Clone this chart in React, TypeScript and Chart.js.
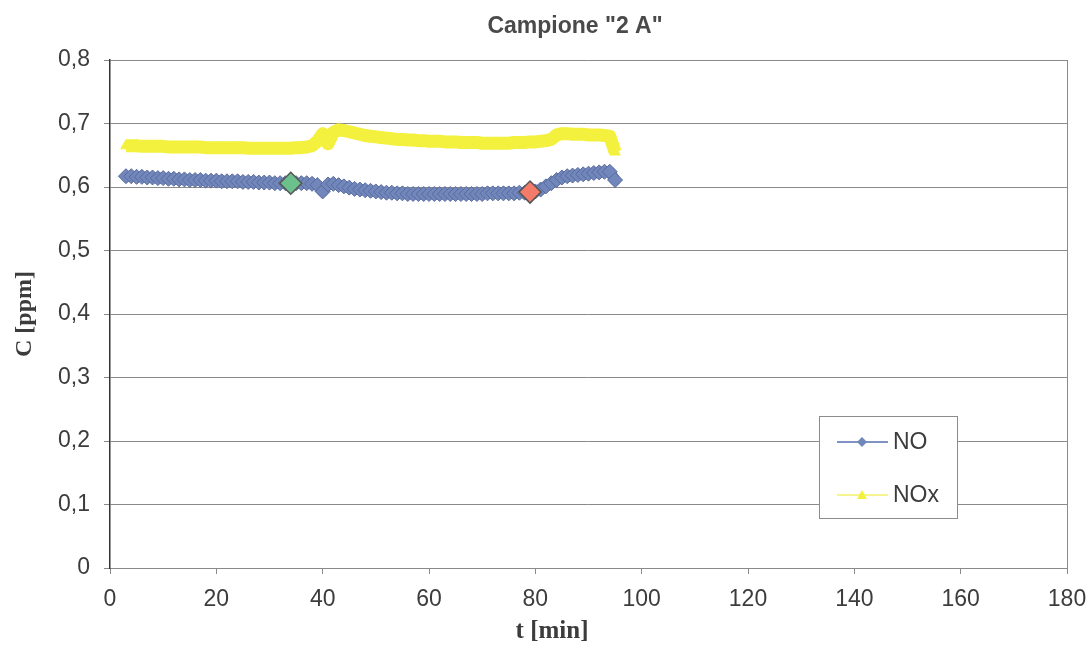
import React, { useEffect, useRef } from "react";
import { Chart, registerables } from "chart.js";

Chart.register(...registerables);

const TITLE = 'Campione "2 A"';
const X_TITLE = "t [min]";
const Y_TITLE = "C [ppm]";
const SERIES_NAMES = ["NO", "NOx"];

const TIME = [
  3, 4, 5, 6, 7, 8, 9, 10, 11, 12, 13, 14, 15, 16, 17, 18, 19, 20, 21, 22,
  23, 24, 25, 26, 27, 28, 29, 30, 31, 32, 33, 34, 35, 36, 37, 38, 39, 40, 41, 42,
  43, 44, 45, 46, 47, 48, 49, 50, 51, 52, 53, 54, 55, 56, 57, 58, 59, 60, 61, 62,
  63, 64, 65, 66, 67, 68, 69, 70, 71, 72, 73, 74, 75, 76, 77, 78, 79, 80, 81, 82,
  83, 84, 85, 86, 87, 88, 89, 90, 91, 92, 93, 94, 95,
];

const NO = [
  0.617, 0.617, 0.616, 0.616, 0.615, 0.615, 0.614, 0.614, 0.613, 0.613, 0.612, 0.612, 0.611, 0.611, 0.611, 0.61, 0.61, 0.61, 0.609, 0.609,
  0.609, 0.609, 0.608, 0.608, 0.608, 0.607, 0.607, 0.607, 0.606, 0.606, 0.606, 0.606, 0.606, 0.606, 0.606, 0.605, 0.603, 0.593, 0.604, 0.605,
  0.603, 0.601, 0.599, 0.597, 0.596, 0.595, 0.594, 0.593, 0.592, 0.591, 0.591, 0.59, 0.59, 0.589, 0.589, 0.589, 0.589, 0.589, 0.589, 0.589,
  0.589, 0.589, 0.589, 0.589, 0.589, 0.589, 0.589, 0.589, 0.59, 0.59, 0.59, 0.59, 0.59, 0.59, 0.591, 0.591, 0.592, 0.593, 0.596, 0.601,
  0.606, 0.611, 0.615, 0.617, 0.618, 0.619, 0.62, 0.621, 0.622, 0.623, 0.624, 0.624, 0.611,
];

const NOX = [
  0.665, 0.665, 0.665, 0.664, 0.664, 0.664, 0.664, 0.664, 0.663, 0.663, 0.663, 0.663, 0.663, 0.663, 0.663, 0.662, 0.662, 0.662, 0.662, 0.662,
  0.662, 0.662, 0.662, 0.661, 0.661, 0.661, 0.661, 0.661, 0.661, 0.661, 0.661, 0.661, 0.662, 0.662, 0.663, 0.665, 0.672, 0.684, 0.668, 0.686,
  0.69, 0.689, 0.687, 0.685, 0.683, 0.681, 0.68, 0.679, 0.678, 0.677, 0.676, 0.675, 0.675, 0.674, 0.674, 0.673, 0.673, 0.672, 0.672, 0.672,
  0.671, 0.671, 0.671, 0.67, 0.67, 0.67, 0.67, 0.669, 0.669, 0.669, 0.669, 0.669, 0.669, 0.67, 0.67, 0.67, 0.671, 0.671, 0.672, 0.673,
  0.675, 0.682, 0.684, 0.684, 0.683, 0.683, 0.683, 0.682, 0.682, 0.682, 0.681, 0.68, 0.655,
];

const MARK_TIMES = [34, 79];
const MARK_COLORS = ["#6cc08c", "#f47a6a"];

const X_MIN = 0;
const X_MAX = 180;
const X_STEP = 20;
const Y_MIN = 0;
const Y_MAX = 0.8;
const Y_STEP = 0.1;

const NO_COLOR = "#7186bb";
const NO_BORDER = "#5a6c9e";
const NOX_COLOR = "#f3f13e";
const TEXT = "#3c3c3c";
const SANS = "'Liberation Sans', Arial, sans-serif";
const SERIF = "'Liberation Serif', 'Times New Roman', serif";

export default function App() {
  const ref = useRef<HTMLCanvasElement>(null);

  useEffect(() => {
    document.body.style.margin = "0";
    const canvas = ref.current!;
    const toPts = (vals: number[]) => TIME.map((t, i) => ({ x: t, y: vals[i] }));
    const marks = MARK_TIMES.map((t) => ({ x: t, y: NO[TIME.indexOf(t)] }));

    const decor = {
      id: "decor",
      beforeDatasetsDraw(chart: any) {
        const { ctx, chartArea } = chart;
        ctx.save();
        ctx.strokeStyle = "#8a8a8a";
        ctx.lineWidth = 1;
        ctx.beginPath();
        ctx.moveTo(chartArea.right + 0.5, chartArea.top);
        ctx.lineTo(chartArea.right + 0.5, chartArea.bottom);
        ctx.stroke();
        ctx.restore();
      },
      afterDraw(chart: any) {
        const { ctx } = chart;
        ctx.save();
        ctx.fillStyle = "#4a4a4a";
        ctx.textAlign = "center";
        ctx.textBaseline = "middle";
        ctx.font = `bold 23px ${SANS}`;
        ctx.fillText(TITLE, 575, 27);

        ctx.fillStyle = TEXT;
        ctx.font = `bold 25px ${SERIF}`;
        ctx.fillText(X_TITLE, 552, 632);

        ctx.save();
        ctx.translate(25, 314);
        ctx.rotate(-Math.PI / 2);
        ctx.font = `bold 24px ${SERIF}`;
        ctx.fillText(Y_TITLE, 0, 0);
        ctx.restore();

        // legend box
        const bx = 819, by = 416, bw = 138, bh = 102;
        ctx.fillStyle = "#ffffff";
        ctx.fillRect(bx, by, bw, bh);
        ctx.strokeStyle = "#8c8c8c";
        ctx.lineWidth = 1;
        ctx.strokeRect(bx + 0.5, by + 0.5, bw, bh);

        // NO entry
        const y1 = 442;
        ctx.strokeStyle = "#7f93c2";
        ctx.lineWidth = 2;
        ctx.beginPath();
        ctx.moveTo(837, y1);
        ctx.lineTo(888, y1);
        ctx.stroke();
        ctx.fillStyle = NO_COLOR;
        ctx.beginPath();
        ctx.moveTo(862, y1 - 5);
        ctx.lineTo(867, y1);
        ctx.lineTo(862, y1 + 5);
        ctx.lineTo(857, y1);
        ctx.closePath();
        ctx.fill();

        // NOx entry
        const y2 = 495;
        ctx.strokeStyle = "#f5f48e";
        ctx.lineWidth = 2;
        ctx.beginPath();
        ctx.moveTo(837, y2);
        ctx.lineTo(888, y2);
        ctx.stroke();
        ctx.fillStyle = NOX_COLOR;
        ctx.beginPath();
        ctx.moveTo(862, y2 - 5);
        ctx.lineTo(867, y2 + 4);
        ctx.lineTo(857, y2 + 4);
        ctx.closePath();
        ctx.fill();

        ctx.fillStyle = TEXT;
        ctx.textAlign = "left";
        ctx.font = `23px ${SANS}`;
        ctx.fillText(SERIES_NAMES[0], 893, y1 + 1);
        ctx.fillText(SERIES_NAMES[1], 893, y2 + 1);
        ctx.restore();
      },
    };

    const fmt = (v: any) => {
      const n = Number(v);
      if (Math.abs(n) < 1e-9) return "0";
      return n.toFixed(1).replace(".", ",");
    };

    const chart = new Chart(canvas, {
      type: "line",
      data: {
        datasets: [
          {
            label: "marks",
            data: marks,
            showLine: false,
            pointStyle: "rectRot",
            pointRadius: 11,
            pointBackgroundColor: MARK_COLORS,
            pointBorderColor: "#555555",
            pointBorderWidth: 1.5,
            order: 0,
          },
          {
            label: SERIES_NAMES[0],
            data: toPts(NO),
            borderColor: NO_COLOR,
            borderWidth: 11,
            borderJoinStyle: "round",
            borderCapStyle: "round",
            pointStyle: "rectRot",
            pointRadius: 7.5,
            pointBackgroundColor: NO_COLOR,
            pointBorderColor: NO_BORDER,
            pointBorderWidth: 1,
            tension: 0,
            order: 1,
          },
          {
            label: SERIES_NAMES[1],
            data: toPts(NOX),
            borderColor: NOX_COLOR,
            borderWidth: 13,
            borderJoinStyle: "round",
            pointStyle: "triangle",
            pointRadius: 6,
            pointBackgroundColor: NOX_COLOR,
            pointBorderColor: NOX_COLOR,
            pointBorderWidth: 1,
            tension: 0,
            order: 2,
          },
        ],
      } as any,
      options: {
        animation: false,
        responsive: false,
        layout: { padding: { top: 60, right: 24, bottom: 0, left: 0 } },
        plugins: {
          legend: { display: false },
          title: { display: false },
          tooltip: { enabled: false },
        },
        scales: {
          x: {
            type: "linear",
            min: X_MIN,
            max: X_MAX,
            afterFit: (s: any) => {
              s.height = 78;
              s.paddingLeft = 0;
              s.paddingRight = 0;
            },
            ticks: {
              stepSize: X_STEP,
              padding: 12,
              color: TEXT,
              font: { size: 23, family: SANS },
              maxRotation: 0,
            },
            grid: {
              drawOnChartArea: false,
              drawTicks: true,
              tickLength: 6,
              color: "#8a8a8a",
            },
            border: { display: true, color: "#8a8a8a", width: 1 },
          },
          y: {
            type: "linear",
            min: Y_MIN,
            max: Y_MAX,
            afterFit: (s: any) => {
              s.width = 110;
              s.paddingTop = 0;
              s.paddingBottom = 0;
            },
            ticks: {
              stepSize: Y_STEP,
              padding: 14,
              color: TEXT,
              font: { size: 23, family: SANS },
              callback: fmt,
            },
            grid: {
              drawOnChartArea: true,
              drawTicks: true,
              tickLength: 6,
              color: "#8a8a8a",
              lineWidth: 1,
            },
            border: { display: true, color: "#333333", width: 1.5 },
          },
        },
      } as any,
      plugins: [decor],
    });

    return () => chart.destroy();
  }, []);

  return (
    <div style={{ position: "fixed", left: 0, top: 0, width: 1091, height: 646, background: "#fff" }}>
      <canvas ref={ref} width={1091} height={646} style={{ display: "block" }} />
    </div>
  );
}
